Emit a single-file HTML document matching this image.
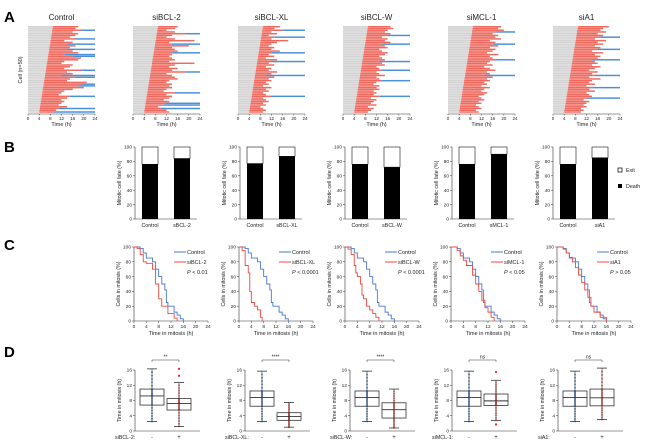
<!DOCTYPE html>
<html><head><meta charset="utf-8"><style>
body{margin:0;background:#fff;}
svg{display:block;font-family:"Liberation Sans",Arial,sans-serif;}
</style></head><body>
<svg id="fig" width="650" height="446" viewBox="0 0 650 446" xmlns="http://www.w3.org/2000/svg">
<text x="4" y="22" font-size="15" font-weight="bold">A</text>
<text x="4" y="152" font-size="15" font-weight="bold">B</text>
<text x="4" y="250" font-size="15" font-weight="bold">C</text>
<text x="4" y="357" font-size="15" font-weight="bold">D</text>
</svg>
<script>
// ---------- Panel A data ----------
const aTitles = ["Control","siBCL-2","siBCL-XL","siBCL-W","siMCL-1","siA1"];
const aEntry = [9,8.8,8.7,8.6,8.5,8.4,8.3,8.2,8.1,8,7.9,7.8,7.7,7.6,7.5,7.4,7.3,7.2,7.1,7,6.9,6.8,6.7,6.6,6.5,6.4,6.3,6.2,6.1,6,5.9,5.8,5.7,5.6,5.5,5.4,5.3,5.2,5.1,5,4.9,4.8,4.7,4.6,4.5,4.4,4.3,4.2,4.1,4];
const aEnd0 = [18,17,19,16,18,17,15,17,13,16,14,17,15,14,16,18,13,16,19,18,13,12,16,15,13,19,14,16,12,17,15,14,21,19,18,20,16,13,12,11,15,14,12,13,12,11,14,11,10,9];
const aEnd1 = [16,15,12,15,19,14,12,15,22,13,14,20,14,15,16,14,14,13,14,15,13,22,15,13,16,14,19,12,14,15,16,13,12,14,13,14,12,11,15,12,14,13,11,13,12,11,9,10,12,13];
const aEnd2 = [15,13,16,12,14,11,13,12,18,14,12,11,13,12,15,12,11,13,10,14,12,11,13,10,12,11,14,12,10,13,11,12,10,11,9,12,10,11,9,10,12,9,10,11,9,10,8,9,10,9];
const aEnd3 = [17,18,16,15,17,16,14,16,15,17,14,15,16,13,14,16,15,13,14,15,13,14,15,12,13,14,12,13,15,12,13,14,12,11,13,12,13,11,12,11,13,10,12,11,10,12,9,11,10,9];
const aEnd4 = [19,18,20,17,16,18,17,19,15,17,16,18,15,17,16,14,18,15,16,17,15,14,16,13,15,17,14,15,13,16,14,15,13,14,12,15,13,12,14,13,11,12,13,11,12,10,11,12,10,11];
const aEnd5 = [20,18,17,19,16,18,17,15,19,16,18,15,17,16,14,18,15,17,16,14,15,16,14,17,15,13,16,14,15,13,17,14,13,15,12,14,13,15,12,13,14,12,11,13,12,11,12,10,11,10];
const aEnds = [aEnd0,aEnd1,aEnd2,aEnd3,aEnd4,aEnd5];
const aExit0 = [2,7,10,13,16,17,25,28,29,33,34,40,47,49];
const aExit1 = [4,10,15,26,38,44,45,47];
const aExit2 = [2,6,15,20,28,40];
const aExit3 = [5,10,20,25,31,40];
const aExit4 = [3,10,19,28];
const aExit5 = [6,13,19,28,35,41];
const aExits = [aExit0,aExit1,aExit2,aExit3,aExit4,aExit5];
const aTicks = [0,4,8,12,16,20,24];

// ---------- Panel B data ----------
const bTreat = ["sBCL-2","sBCL-XL","sBCL-W","sMCL-1","siA1"];
const bDeathCtrl = [76,77,76,76,76];
const bDeathTreat = [84,87,72,90,85];
const bTicks = [0,20,40,60,80,100];

// ---------- Panel C data ----------
const cTreat = ["siBCL-2","siBCL-XL","siBCL-W","siMCL-1","siA1"];
const cP = ["< 0.01","< 0.0001","< 0.0001","< 0.05","> 0.05"];
const cCtrlT = [0,2,3,4,6,7,8,9,10,10.5,11,13,14,15,16];
const cCtrlV = [100,98,92,85,80,70,60,50,42,25,20,12,8,3,0];
const cT0 = [0,1,2,3,4,6,7,8,9,11,13,14]; const cV0 = [100,98,90,80,78,70,50,30,20,10,4,0];
const cT1 = [0,1,2,3,3.5,4,5,6,7,7.5]; const cV1 = [100,95,75,65,40,25,20,15,5,0];
const cT2 = [0,1,2,3,3.5,4,5,5.5,6,7,8,9,10,11]; const cV2 = [100,97,90,75,65,60,50,35,30,20,15,10,5,0];
const cT3 = [0,2,3,4,5,7,8,9,10,11,12,13,14]; const cV3 = [100,95,88,82,75,62,50,40,28,18,12,5,0];
const cT4 = [0,2,3,4,5,6,7,8,9,10,11,12,14,16]; const cV4 = [100,97,92,86,80,72,62,52,42,32,20,12,5,0];
const cTs = [cT0,cT1,cT2,cT3,cT4]; const cVs = [cV0,cV1,cV2,cV3,cV4];
const cXTicks = [0,4,8,12,16,20,24]; const cYTicks = [0,20,40,60,80,100];

// ---------- Panel D data ----------
const dTreat = ["siBCL-2:","siBCL-XL:","siBCL-W:","siMCL-1:","siA1:"];
const dSig = ["**","****","****","ns","ns"];
const dCtrl0 = [2.5,6.8,9.2,11,16.3];
const dCtrl = [2.5,6.5,8.8,10.5,15.7];
const dT0 = [1.2,5.5,7.2,8.5,12.7]; const dT1 = [1,2.8,3.8,4.8,7.5]; const dT2 = [0.8,3.4,5.6,7.4,11];
const dT3 = [2.8,6.7,7.9,9.7,13.3]; const dT4 = [3,6.6,8.7,11,16.5];
const dTreatBox = [dT0,dT1,dT2,dT3,dT4];
const dOut = [[14.5,16.3],[],[],[1.7,15.5],[]];
const dYTicks = [0,4,8,12,16];

const NS="http://www.w3.org/2000/svg";
const svg=document.getElementById('fig');
function mk(tag,attrs,parent){const e=document.createElementNS(NS,tag);for(const k in attrs)e.setAttribute(k,attrs[k]);(parent||svg).appendChild(e);return e;}
function txt(x,y,s,size,anchor,parent,extra){const t=mk('text',Object.assign({x:x,y:y,'font-size':size,'text-anchor':anchor||'middle',fill:'#222'},extra||{}),parent);t.textContent=s;return t;}

// Panel A
const aX=[28,133,238,343,448,553];
aTitles.forEach((title,p)=>{
  const g=mk('g',{});
  
  
  const x0=aX[p],w=67,top=26,bot=113;
  const sx=v=>x0+v/24*w;
  const rh=(bot-top)/50;
  const t=txt(x0+w/2,20,title,8,'middle',g);
  
  
  const exits=aExits[p];
  for(let i=0;i<50;i++){
    const y=top+i*rh;
    mk('rect',{x:x0,y:y,width:sx(aEntry[i])-x0,height:rh*0.85,fill:'#d3d3d3'},g);
    const r=mk('rect',{x:sx(aEntry[i]),y:y,width:sx(aEnds[p][i])-sx(aEntry[i]),height:rh*0.85,fill:'#f0695e'},g);
    
    
    if(exits.includes(i)){
      mk('rect',{x:sx(aEnds[p][i]),y:y,width:sx(24)-sx(aEnds[p][i]),height:rh*0.85,fill:'#4a90d9'},g);
    }
  }
  mk('line',{x1:x0,y1:bot+1,x2:x0+w,y2:bot+1,stroke:'#333','stroke-width':0.6},g);
  aTicks.forEach(v=>{mk('line',{x1:sx(v),y1:bot+1,x2:sx(v),y2:bot+2.5,stroke:'#333','stroke-width':0.5},g);txt(sx(v),bot+7,String(v),4.5,'middle',g);});
  txt(x0+w/2,bot+13,'Time (h)',5.5,'middle',g);
  if(p===0){txt(0,0,'Cell (n=50)',5.5,'middle',g,{transform:'translate(22,70) rotate(-90)'});}
});

// Panel B
const bX=[135,240,345,452,553];
bTreat.forEach((name,p)=>{
  const g=mk('g',{});
  
  
  const x0=bX[p],top=147,bot=219,w=62;
  const sy=v=>bot-v/100*(bot-top);
  mk('line',{x1:x0,y1:top,x2:x0,y2:bot,stroke:'#333','stroke-width':0.6},g);
  mk('line',{x1:x0,y1:bot,x2:x0+w,y2:bot,stroke:'#333','stroke-width':0.6},g);
  bTicks.forEach(v=>{mk('line',{x1:x0-2,y1:sy(v),x2:x0,y2:sy(v),stroke:'#333','stroke-width':0.5},g);txt(x0-3,sy(v)+1.7,String(v),4.8,'end',g);});
  txt(0,0,'Mitotic cell fate (%)',5.3,'middle',g,{transform:`translate(${x0-14},${(top+bot)/2}) rotate(-90)`});
  [[bDeathCtrl[p],'Control',x0+7],[bDeathTreat[p],name,x0+39]].forEach(([d,lab,bx])=>{
    mk('rect',{x:bx,y:sy(100),width:16,height:sy(d)-sy(100),fill:'#fff',stroke:'#111','stroke-width':0.6},g);
    const b=mk('rect',{x:bx,y:sy(d),width:16,height:bot-sy(d),fill:'#000'},g);
    
    
    txt(bx+8,bot+8,lab,5.3,'middle',g);
  });
});
{
  const g=mk('g',{});
  
  
  mk('rect',{x:618,y:168,width:4,height:4,fill:'#fff',stroke:'#000','stroke-width':0.7},g);
  txt(626,172,'Exit',5.3,'start',g);
  mk('rect',{x:618,y:184,width:4,height:4,fill:'#000'},g);
  txt(626,188,'Death',5.3,'start',g);
}

// Panel C
const cX=[134,239,345,451,557];
cTreat.forEach((name,p)=>{
  const g=mk('g',{});
  
  
  const x0=cX[p],top=247,bot=321,w=74;
  const sx=v=>x0+v/24*w, sy=v=>bot-v/100*(bot-top);
  mk('line',{x1:x0,y1:top,x2:x0,y2:bot,stroke:'#333','stroke-width':0.6},g);
  mk('line',{x1:x0,y1:bot,x2:x0+w,y2:bot,stroke:'#333','stroke-width':0.6},g);
  cYTicks.forEach(v=>{mk('line',{x1:x0-2,y1:sy(v),x2:x0,y2:sy(v),stroke:'#333','stroke-width':0.5},g);txt(x0-3,sy(v)+1.7,String(v),4.8,'end',g);});
  cXTicks.forEach(v=>{mk('line',{x1:sx(v),y1:bot,x2:sx(v),y2:bot+2,stroke:'#333','stroke-width':0.5},g);txt(sx(v),bot+7,String(v),4.8,'middle',g);});
  txt(x0+w/2,bot+14,'Time in mitosis (h)',5.5,'middle',g);
  txt(0,0,'Cells in mitosis (%)',5.3,'middle',g,{transform:`translate(${x0-14},${(top+bot)/2}) rotate(-90)`});
  const step=(T,V)=>{let d='M'+sx(T[0])+','+sy(V[0]);for(let i=1;i<T.length;i++){d+=' L'+sx(T[i])+','+sy(V[i-1])+' L'+sx(T[i])+','+sy(V[i]);}return d;};
  const lc=mk('path',{d:step(cCtrlT,cCtrlV),fill:'none',stroke:'#4a78d0','stroke-width':0.9},g);
  
  
  const lt=mk('path',{d:step(cTs[p],cVs[p]),fill:'none',stroke:'#f0473d','stroke-width':0.9},g);
  
  
  mk('line',{x1:x0+40,y1:252,x2:x0+52,y2:252,stroke:'#4a78d0','stroke-width':1},g);
  txt(x0+53,254,'Control',5.5,'start',g);
  mk('line',{x1:x0+40,y1:262,x2:x0+52,y2:262,stroke:'#f0473d','stroke-width':1},g);
  txt(x0+53,264,name,5.5,'start',g);
  const pt=txt(x0+53,274,'',5.5,'start',g);
  const it=document.createElementNS(NS,'tspan');it.setAttribute('font-style','italic');it.textContent='P';pt.appendChild(it);
  pt.appendChild(document.createTextNode(' '+cP[p]));
});

// Panel D
const dX=[135,245,350,452,558];
dTreat.forEach((name,p)=>{
  const g=mk('g',{});
  
  
  const x0=dX[p],top=370,bot=431,w=65;
  const sy=v=>bot-v/16*(bot-top);
  mk('line',{x1:x0,y1:top,x2:x0,y2:bot,stroke:'#333','stroke-width':0.6},g);
  mk('line',{x1:x0,y1:bot,x2:x0+w,y2:bot,stroke:'#333','stroke-width':0.6},g);
  dYTicks.forEach(v=>{mk('line',{x1:x0-2,y1:sy(v),x2:x0,y2:sy(v),stroke:'#333','stroke-width':0.5},g);txt(x0-3,sy(v)+1.7,String(v),4.8,'end',g);});
  txt(0,0,'Time in mitosis (h)',5.3,'middle',g,{transform:`translate(${x0-14},${(top+bot)/2}) rotate(-90)`});
  const boxes=[[p===0?dCtrl0:dCtrl,x0+17,'#2d5fb8',[]],[dTreatBox[p],x0+44,'#e8322a',dOut[p]]];
  boxes.forEach(([s,cx,col,outs])=>{
    const hw=12;
    for(let k=0;k<s.length-1;k++){
      const n=6;
      for(let j=0;j<n;j++){const v=s[k]+(s[k+1]-s[k])*j/n;mk('rect',{x:cx-0.8,y:sy(v)-0.8,width:1.6,height:1.6,fill:col,opacity:0.8},g);}
    }
    outs.forEach(v=>mk('rect',{x:cx-1,y:sy(v)-1,width:2,height:2,fill:col},g));
    mk('line',{x1:cx,y1:sy(s[0]),x2:cx,y2:sy(s[4]),stroke:'#333','stroke-width':0.6},g);
    mk('line',{x1:cx-5,y1:sy(s[0]),x2:cx+5,y2:sy(s[0]),stroke:'#333','stroke-width':0.8},g);
    mk('line',{x1:cx-5,y1:sy(s[4]),x2:cx+5,y2:sy(s[4]),stroke:'#333','stroke-width':0.8},g);
    const b=mk('rect',{x:cx-hw,y:sy(s[3]),width:hw*2,height:sy(s[1])-sy(s[3]),fill:'none',stroke:'#333','stroke-width':0.8},g);
    
    
    mk('line',{x1:cx-hw,y1:sy(s[2]),x2:cx+hw,y2:sy(s[2]),stroke:'#333','stroke-width':0.9},g);
  });
  mk('path',{d:`M${x0+17},${top-8} L${x0+17},${top-10} L${x0+44},${top-10} L${x0+44},${top-8}`,fill:'none',stroke:'#333','stroke-width':0.5},g);
  txt(x0+30.5,top-11.5,dSig[p],5,'middle',g);
  txt(x0-20,bot+8,name,5.3,'start',g);
  txt(x0+17,bot+8,'-',5.5,'middle',g);
  txt(x0+44,bot+8,'+',6,'middle',g);
});
</script>
</body></html>
